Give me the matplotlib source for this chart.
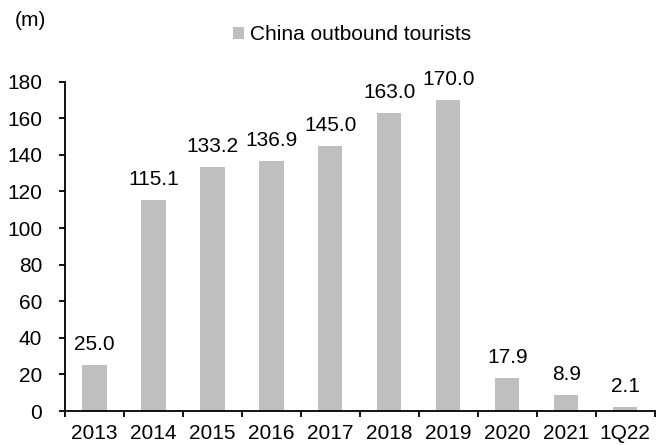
import matplotlib.pyplot as plt
import numpy as np

plt.rcParams['font.family'] = ['Liberation Sans', 'DejaVu Sans']

years = ["2013", "2014", "2015", "2016", "2017", "2018", "2019", "2020", "2021", "1Q22"]
tourists = [25.0, 115.1, 133.2, 136.9, 145.0, 163.0, 170.0, 17.9, 8.9, 2.1]

fig = plt.figure(figsize=(6.64, 4.45), dpi=100)
ax = fig.add_axes([0.098, 0.0764, 0.888, 0.74])

x = np.arange(len(years))
bars = ax.bar(x, tourists, width=0.41, color="#BFBFBF", label="China outbound tourists")

# value labels above each bar
for xi, v in zip(x, tourists):
    ax.text(xi, v + 8.2, f"{v:.1f}", ha="center", va="baseline", fontsize=15)

ax.set_xlim(-0.5, len(years) - 0.5)
ax.set_ylim(0, 180)
ax.set_yticks(np.arange(0, 181, 20))
ax.tick_params(axis="y", labelsize=15, direction="out", length=4.5, width=1.3, pad=12)

ax.set_xticks(x)
ax.set_xticklabels(years, fontsize=15)
ax.tick_params(axis="x", length=0, pad=9.5)
ax.set_xticks(np.arange(-0.5, len(years) + 0.5, 1), minor=True)
ax.tick_params(axis="x", which="minor", direction="out", length=4.5, width=1.3)

for s in ["top", "right"]:
    ax.spines[s].set_visible(False)
ax.spines["left"].set_linewidth(1.3)
ax.spines["bottom"].set_linewidth(1.3)

fig.legend(handles=[bars], loc="center", bbox_to_anchor=(0.53, 0.922), frameon=False,
           fontsize=15, handlelength=0.55, handleheight=0.55, handletextpad=0.3)
fig.text(0.022, 0.955, "(m)", fontsize=15, ha="left", va="center")

fig.savefig("out.png", dpi=100)
